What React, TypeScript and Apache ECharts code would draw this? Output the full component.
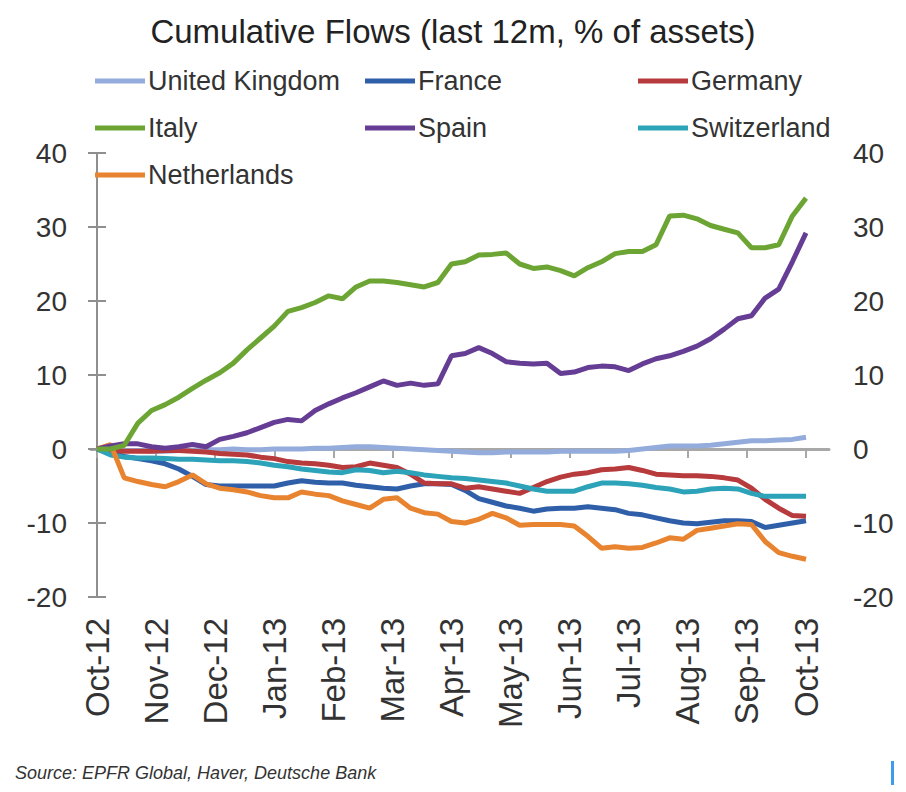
import React, { useEffect, useRef } from "react";
import * as echarts from "echarts";

const monthLabels = ["Oct-12","Nov-12","Dec-12","Jan-13","Feb-13","Mar-13","Apr-13","May-13","Jun-13","Jul-13","Aug-13","Sep-13","Oct-13"];

const unitedKingdom = [0,-0.1,-0.2,-0.2,-0.3,-0.3,-0.2,-0.2,-0.1,-0.1,0,-0.1,-0.1,0,0,0,0.1,0.1,0.2,0.3,0.3,0.2,0.1,0,-0.1,-0.2,-0.3,-0.4,-0.5,-0.5,-0.4,-0.4,-0.4,-0.4,-0.3,-0.3,-0.3,-0.3,-0.3,-0.2,0,0.2,0.4,0.4,0.4,0.5,0.7,0.9,1.1,1.1,1.2,1.3,1.6];
const france = [0,-0.5,-1,-1.3,-1.6,-2,-2.7,-3.7,-4.8,-5,-5,-5,-5,-5,-4.6,-4.3,-4.5,-4.6,-4.6,-4.9,-5.1,-5.3,-5.4,-5,-4.7,-4.7,-4.8,-5.6,-6.7,-7.2,-7.7,-8,-8.4,-8.1,-8,-8,-7.8,-8,-8.2,-8.7,-8.9,-9.3,-9.7,-10,-10.1,-9.9,-9.7,-9.7,-9.8,-10.6,-10.3,-10,-9.7];
const germany = [0,-0.2,-0.3,-0.3,-0.3,-0.2,-0.2,-0.3,-0.4,-0.6,-0.7,-0.8,-1.1,-1.3,-1.7,-1.9,-2,-2.2,-2.5,-2.4,-1.9,-2.2,-2.5,-3.4,-4.6,-4.7,-4.7,-5.3,-5.1,-5.4,-5.7,-6,-5.2,-4.4,-3.8,-3.4,-3.2,-2.8,-2.7,-2.5,-2.9,-3.4,-3.5,-3.6,-3.6,-3.7,-3.9,-4.2,-5.3,-6.8,-8,-9,-9.1];
const italy = [0,0,0.5,3.5,5.2,6,7,8.2,9.3,10.3,11.6,13.4,15,16.6,18.6,19.1,19.8,20.7,20.3,21.9,22.7,22.7,22.5,22.2,21.9,22.5,25,25.3,26.2,26.3,26.5,25,24.4,24.6,24.1,23.4,24.5,25.3,26.4,26.7,26.7,27.6,31.5,31.6,31.1,30.2,29.7,29.2,27.2,27.2,27.6,31.5,33.9];
const spain = [0,0.4,0.7,0.7,0.3,0.1,0.3,0.6,0.3,1.3,1.7,2.2,2.9,3.6,4,3.8,5.2,6.1,6.9,7.6,8.4,9.2,8.6,8.9,8.6,8.8,12.6,12.9,13.7,12.9,11.8,11.6,11.5,11.6,10.2,10.4,11,11.2,11.1,10.6,11.5,12.2,12.6,13.2,13.9,14.9,16.2,17.6,18,20.4,21.6,25.3,29.2];
const switzerland = [0,-0.8,-1.1,-1.2,-1.2,-1.3,-1.4,-1.4,-1.5,-1.6,-1.6,-1.7,-1.9,-2.2,-2.4,-2.7,-2.9,-3.1,-3.2,-2.8,-2.9,-3.2,-3,-3.2,-3.5,-3.7,-3.9,-4,-4.2,-4.4,-4.6,-5,-5.4,-5.7,-5.7,-5.7,-5.1,-4.6,-4.6,-4.7,-4.9,-5.2,-5.4,-5.8,-5.7,-5.4,-5.3,-5.4,-6,-6.4,-6.4,-6.4,-6.4];
const netherlands = [0,0.6,-3.9,-4.4,-4.8,-5.1,-4.4,-3.5,-4.7,-5.3,-5.5,-5.8,-6.3,-6.6,-6.6,-5.8,-6.1,-6.3,-7,-7.5,-8,-6.8,-6.6,-8,-8.6,-8.8,-9.8,-10,-9.5,-8.7,-9.3,-10.3,-10.2,-10.2,-10.2,-10.4,-11.8,-13.4,-13.2,-13.4,-13.3,-12.7,-12,-12.2,-11,-10.7,-10.4,-10.1,-10.2,-12.5,-14,-14.5,-14.9];

const seriesDefs = [
  { name: "United Kingdom", data: unitedKingdom, color: "#93acdb" },
  { name: "France", data: france, color: "#2f5fa8" },
  { name: "Germany", data: germany, color: "#b73a3d" },
  { name: "Switzerland", data: switzerland, color: "#2ca3b8" },
  { name: "Netherlands", data: netherlands, color: "#e8832f" },
  { name: "Spain", data: spain, color: "#663d94" },
  { name: "Italy", data: italy, color: "#6ca534" },
];

const FONT = "'Liberation Sans', Arial, Helvetica, sans-serif";
const monthIdx = monthLabels.map((_, i) => i);

export default function App() {
  const ref = useRef<HTMLDivElement>(null);
  useEffect(() => {
    if (!ref.current) return;
    const chart = echarts.init(ref.current, null, { renderer: "svg" });
    const xMin = -0.1016;
    const xMax = 12.389;
    const toXY = (arr: number[]) => arr.map((v, i) => [(i * 12) / (arr.length - 1), v]);
    const legendCommon = {
      orient: "vertical",
      top: 62,
      icon: "rect",
      itemWidth: 50,
      itemHeight: 5,
      itemGap: 19,
      selectedMode: false,
      textStyle: { fontFamily: FONT, fontSize: 27, color: "#333", lineHeight: 28, padding: [0, 0, 0, -2] },
    };
    const yAxisCommon = {
      type: "value",
      min: -20,
      max: 40,
      interval: 10,
      splitLine: { show: false },
      axisLine: { show: true, lineStyle: { color: "#8f8f8f", width: 2 } },
      axisTick: { show: true, length: 9, lineStyle: { color: "#8f8f8f", width: 2 } },
      axisLabel: { fontFamily: FONT, fontSize: 28, color: "#333", margin: 24 },
    };
    chart.setOption({
      animation: false,
      backgroundColor: "#ffffff",
      textStyle: { fontFamily: FONT },
      title: {
        text: "Cumulative Flows (last 12m, % of assets)",
        left: "center",
        top: 10,
        textStyle: { fontFamily: FONT, fontSize: 33, fontWeight: "normal", color: "#222" },
      },
      legend: [
        { ...legendCommon, left: 90, data: ["United Kingdom", "Italy", "Netherlands"] },
        { ...legendCommon, left: 360, data: ["France", "Spain"] },
        { ...legendCommon, left: 633, data: ["Germany", "Switzerland"] },
      ],
      grid: { left: 91, right: 77, top: 153, bottom: 195, containLabel: false },
      xAxis: [
        {
          type: "value",
          min: xMin,
          max: xMax,
          splitLine: { show: false },
          axisLine: { show: true, onZero: true, lineStyle: { color: "#a8a8a8", width: 3 } },
          axisTick: { show: true, customValues: monthIdx, length: 9, lineStyle: { color: "#a8a8a8", width: 2 } },
          axisLabel: { show: false },
        },
        {
          type: "value",
          min: xMin,
          max: xMax,
          position: "bottom",
          splitLine: { show: false },
          axisLine: { show: false, onZero: false },
          axisTick: { show: false },
          axisLabel: {
            show: true,
            customValues: monthIdx,
            rotate: 90,
            margin: 21,
            fontFamily: FONT,
            fontSize: 33,
            color: "#333",
            formatter: (v: number) => monthLabels[Math.round(v)] ?? "",
          },
        },
      ],
      yAxis: [
        { ...yAxisCommon, position: "left" },
        { ...yAxisCommon, position: "right" },
      ],
      graphic: [
        {
          type: "text",
          left: 15,
          top: 764,
          style: { text: "Source: EPFR Global, Haver, Deutsche Bank", font: "italic 18px " + FONT, fill: "#333" },
        },
        { type: "rect", shape: { x: 891, y: 761, width: 3, height: 24 }, style: { fill: "#3b9cf0" } },
      ],
      series: seriesDefs.map((s) => ({
        name: s.name,
        type: "line",
        xAxisIndex: 0,
        yAxisIndex: 0,
        data: toXY(s.data),
        showSymbol: false,
        symbol: "none",
        lineStyle: { color: s.color, width: 5 },
        itemStyle: { color: s.color },
        z: 3,
      })),
    });
    return () => chart.dispose();
  }, []);
  return <div ref={ref} style={{ position: "absolute", left: 0, top: 0, width: 906, height: 792 }} />;
}
